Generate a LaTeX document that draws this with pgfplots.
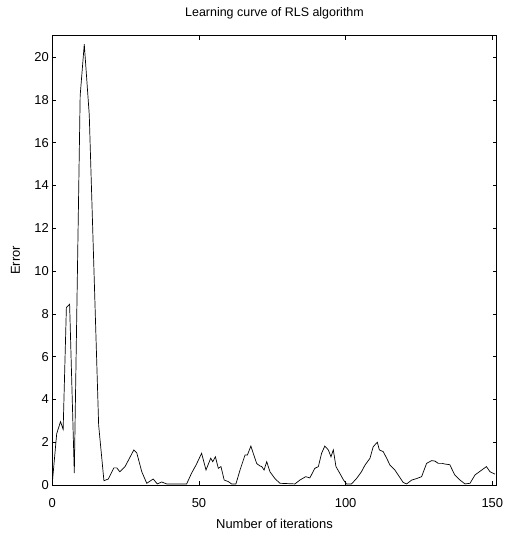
\documentclass[border=0pt]{standalone}
\usepackage{pgfplots}
\pgfplotsset{compat=1.18}
\usepackage{fontspec}
\setmainfont{Liberation Sans}
\begin{document}
\begin{tikzpicture}
\useasboundingbox (-52.3bp,-48bp) rectangle (456.7bp,485bp);
\begin{axis}[
  at={(0,0)}, anchor=south west,
  scale only axis,
  width=444.4bp, height=449.3bp,
  xmin=0, xmax=151.5, ymin=0, ymax=21,
  xtick={0,50,100,150},
  ytick={0,2,4,6,8,10,12,14,16,18,20},
  tick align=inside,
  major tick length=4bp,
  tick style={black, line width=0.6bp},
  axis line style={black, line width=1bp},
  /pgf/number format/assume math mode=true,
  ticklabel style={font=\fontsize{13}{15}\selectfont},
  xticklabel style={yshift=-9.5bp},
  title={Learning curve of RLS algorithm},
  title style={at={(axis description cs:0.5,1.029)}, anchor=base, font=\fontsize{12.5}{14}\selectfont},
  xlabel={Number of iterations},
  xlabel style={at={(axis description cs:0.5,-0.0957)}, anchor=base, font=\fontsize{13}{15}\selectfont},
  ylabel={Error},
  ylabel style={at={(axis description cs:-0.083,0.5)}, anchor=center, font=\fontsize{13}{15}\selectfont},
]
\addplot[black, line width=0.7bp] coordinates {
(0,0.1) (1.5,2.4) (2.8,2.96) (3.7,2.6) (4.8,8.3) (5.9,8.45) (7.5,0.56)
(9.5,18.2) (10.9,20.6) (12.6,17.3) (15.8,2.8) (17.6,0.2) (19.1,0.28)
(21,0.8) (22,0.8) (23,0.62) (24.8,0.86) (27.8,1.64) (28.8,1.5) (30.5,0.62)
(32.2,0.08) (34.4,0.28) (35.8,0.05) (37.3,0.14) (39,0.05) (45.8,0.05)
(47.5,0.56) (49,0.93) (50.9,1.48) (52.4,0.7) (54,1.25) (54.7,1.09)
(55.6,1.32) (56.6,0.78) (57.5,0.86) (58.6,0.23) (60,0.16) (61.1,0.05)
(62.6,0.05) (64,0.7) (65.7,1.4) (66.5,1.4) (67.7,1.82) (68.5,1.48)
(69.7,1.0) (70.8,0.89) (71.4,0.86) (72.2,0.7) (73.1,1.09) (74.2,0.62)
(75.9,0.3) (77.6,0.08) (82.7,0.05) (84.4,0.23) (86.4,0.39) (87.8,0.33)
(89.5,0.78) (90.7,0.86) (91.8,1.48) (92.9,1.82) (94.1,1.64) (95,1.32)
(95.8,1.64) (96.7,0.86) (98,0.55) (99.2,0.25) (100.3,0.05) (102,0.05)
(103.7,0.3) (105.4,0.62) (106.6,0.93) (108.3,1.25) (109.4,1.79) (110.8,2.0)
(111.5,1.64) (112.8,1.56) (114,1.25) (115.1,0.93) (116.8,0.7) (118.5,0.35)
(119.6,0.12) (120.8,0.05) (122.5,0.23) (124.2,0.3) (125.9,0.39) (127.6,1.01)
(129.3,1.14) (130.4,1.12) (131.6,1.01) (133,1.01) (133.8,0.98) (135.5,0.95)
(137.2,0.47) (139,0.23) (140.7,0.05) (142.4,0.08) (144.1,0.47) (146.4,0.7)
(148,0.86) (149.2,0.62) (150.9,0.51)
};
\end{axis}
\end{tikzpicture}
\end{document}
